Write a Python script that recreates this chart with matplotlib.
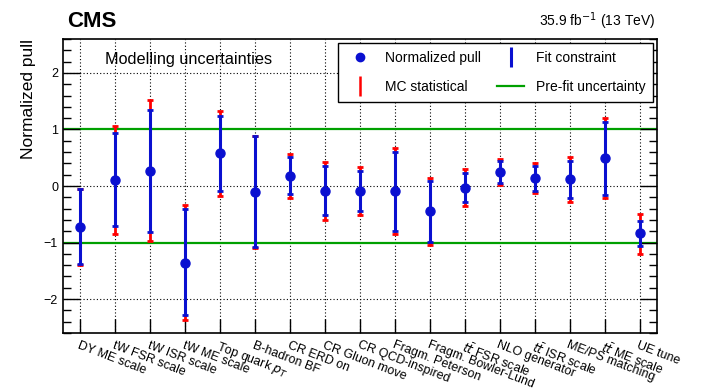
import matplotlib.pyplot as plt
import numpy as np
from matplotlib.lines import Line2D
from matplotlib.ticker import MultipleLocator

plt.rcParams['font.family'] = ['Liberation Sans', 'DejaVu Sans']

# Nuisance parameters (left to right)
labels = ['DY ME scale', 'tW FSR scale', 'tW ISR scale', 'tW ME scale',
          'Top quark $p_{T}$', 'B-hadron BF', 'CR ERD on', 'CR Gluon move',
          'CR QCD-inspired', 'Fragm. Peterson', 'Fragm. Bowler-Lund',
          r'$t\bar{t}$ FSR scale', 'NLO generator', r'$t\bar{t}$ ISR scale',
          'ME/PS matching', r'$t\bar{t}$ ME scale', 'UE tune']

# Normalized pull
pull = [-0.73, 0.11, 0.26, -1.36, 0.58, -0.11, 0.18, -0.08, -0.09,
        -0.09, -0.45, -0.03, 0.24, 0.14, 0.12, 0.49, -0.84]
# Fit constraint band edges
fit_hi = [-0.06, 0.93, 1.34, -0.41, 1.23, 0.88, 0.51, 0.35, 0.27,
          0.61, 0.09, 0.23, 0.44, 0.35, 0.44, 1.13, -0.62]
fit_lo = [-1.38, -0.71, -0.82, -2.29, -0.09, -1.08, -0.15, -0.51, -0.45,
          -0.80, -0.99, -0.29, 0.05, -0.09, -0.21, -0.16, -1.06]
# Including MC statistical uncertainty
mc_hi = [-0.05, 1.06, 1.53, -0.33, 1.33, 0.89, 0.57, 0.43, 0.34,
         0.68, 0.15, 0.30, 0.48, 0.41, 0.52, 1.20, -0.50]
mc_lo = [-1.40, -0.85, -0.98, -2.37, -0.18, -1.10, -0.21, -0.61, -0.52,
         -0.85, -1.05, -0.35, 0.01, -0.13, -0.29, -0.22, -1.20]

pull = np.array(pull)
x = np.arange(len(labels)) + 0.5

blue = '#0a10d0'
red = '#ff0000'
green = '#00a000'

fig = plt.figure(figsize=(7.06, 3.92), dpi=100)
ax = fig.add_axes([0.0892, 0.1505, 0.8414, 0.75])

# grid
for xi in x:
    ax.axvline(xi, color='black', ls=(0, (1, 2)), lw=0.8, zorder=0)
for yi in [-2, 0, 2]:
    ax.axhline(yi, color='black', ls=(0, (1, 2)), lw=0.8, zorder=0)

ax.axhline(1, color=green, lw=1.6, zorder=1)
ax.axhline(-1, color=green, lw=1.6, zorder=1)

ax.errorbar(x, pull, yerr=[pull - np.array(mc_lo), np.array(mc_hi) - pull],
            fmt='none', ecolor=red, elinewidth=2, capsize=2, capthick=2, zorder=2)
ax.errorbar(x, pull, yerr=[pull - np.array(fit_lo), np.array(fit_hi) - pull],
            fmt='none', ecolor=blue, elinewidth=2.2, capsize=2, capthick=2, zorder=3)
ax.plot(x, pull, 'o', color=blue, ms=6.5, zorder=4)

ax.set_xlim(0, len(labels))
ax.set_ylim(-2.6, 2.6)
ax.yaxis.set_major_locator(MultipleLocator(1))
ax.yaxis.set_minor_locator(MultipleLocator(0.2))
ax.tick_params(axis='y', which='major', direction='in', length=12, width=1,
               labelsize=9, right=True)
ax.tick_params(axis='y', which='minor', direction='in', length=6, width=1, right=True)
ax.set_xticks(x)
ax.set_xticklabels([])
ax.tick_params(axis='x', direction='in', length=10, width=1)
for sp in ax.spines.values():
    sp.set_linewidth(1.2)

for xi, lab in zip(x, labels):
    ax.annotate(lab, xy=(xi, -2.6), xytext=(0, -4.5), textcoords='offset points',
                rotation=-21, rotation_mode='anchor', ha='left', va='top',
                fontsize=9, annotation_clip=False)

ax.set_ylabel('Normalized pull', fontsize=12.5, loc='top')
ax.yaxis.set_label_coords(-0.046, 1.0)

ax.text(0.07, 0.93, 'Modelling uncertainties', transform=ax.transAxes,
        fontsize=11.7, va='center')

fig.text(0.095, 0.945, 'CMS', fontsize=16, fontweight='bold', va='center')
fig.text(0.928, 0.945, r'35.9 fb$^{-1}$ (13 TeV)', fontsize=10,
         ha='right', va='center')

handles = [
    Line2D([], [], marker='o', color=blue, ls='none', ms=6),
    Line2D([], [], marker='|', color=red, ls='none', ms=14, mew=1.8),
    Line2D([], [], marker='|', color=blue, ls='none', ms=14, mew=2.2),
    Line2D([], [], color=green, lw=1.6),
]
names = ['Normalized pull', 'MC statistical', 'Fit constraint', 'Pre-fit uncertainty']
leg = ax.legend(handles, names, ncol=2, fontsize=10,
                bbox_to_anchor=(0.463, 0.786, 0.53, 0.2), mode='expand',
                loc='lower left', borderaxespad=0, fancybox=False,
                framealpha=1, edgecolor='black', handlelength=2.0,
                labelspacing=1.1, borderpad=0.55, columnspacing=0.4)
leg.get_frame().set_linewidth(1.0)

fig.savefig('out.png', dpi=100)
